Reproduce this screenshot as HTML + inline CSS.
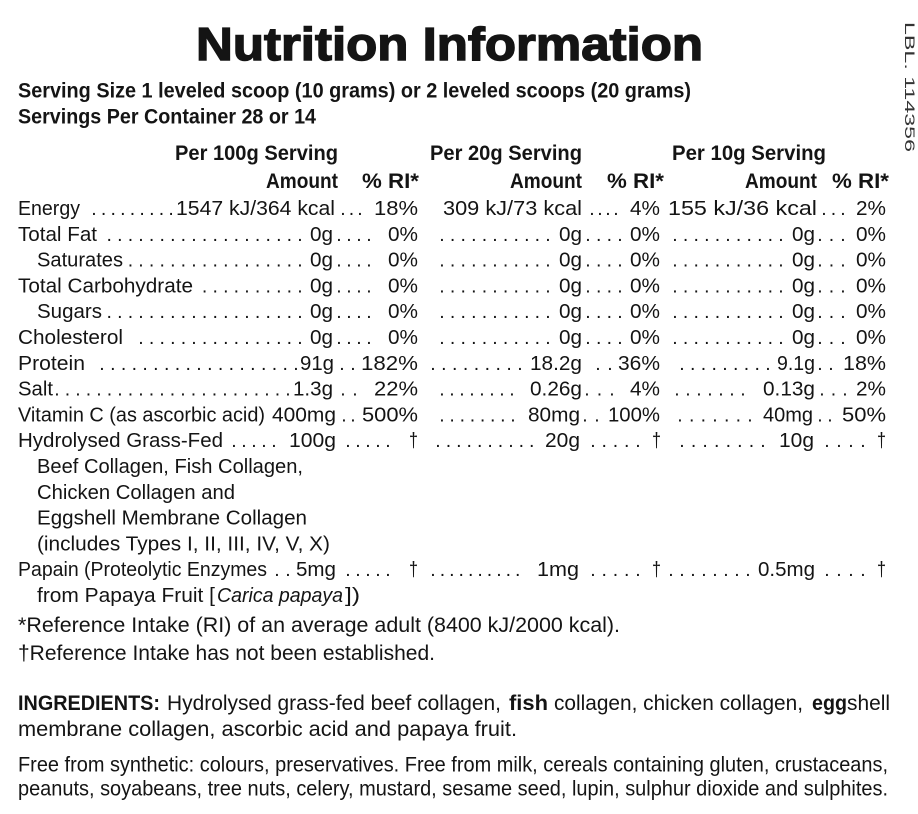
<!DOCTYPE html>
<html><head><meta charset="utf-8"><style>
html,body{margin:0;padding:0;background:#fff;}
svg{display:block;}
text{font-family:"Liberation Sans",sans-serif;font-size:20.5px;fill:#141414;}
.b{font-weight:bold;font-size:21.5px;}
.f{font-size:21.5px;}
.t{font-weight:bold;font-size:46px;stroke:#141414;stroke-width:1.4px;}
.i{font-style:italic;}
.l{font-size:14px;fill:#333;}
.d{font-size:19.5px;}
</style></head><body>
<svg width="918" height="814" viewBox="0 0 918 814" xmlns="http://www.w3.org/2000/svg">
<rect width="918" height="814" fill="#fff"/>
<text class="t" x="196" y="60" textLength="507" lengthAdjust="spacingAndGlyphs">Nutrition Information</text>
<text class="l" transform="translate(905,22) rotate(90)" textLength="130" lengthAdjust="spacingAndGlyphs">LBL. 114356</text>

<text class="b" x="18" y="97.5" textLength="673" lengthAdjust="spacingAndGlyphs">Serving Size 1 leveled scoop (10 grams) or 2 leveled scoops (20 grams)</text>
<text class="b" x="18" y="123.5" textLength="298" lengthAdjust="spacingAndGlyphs">Servings Per Container 28 or 14</text>

<text class="b" x="175" y="160" textLength="163" lengthAdjust="spacingAndGlyphs">Per 100g Serving</text>
<text class="b" x="430" y="160" textLength="152" lengthAdjust="spacingAndGlyphs">Per 20g Serving</text>
<text class="b" x="672" y="160" textLength="154" lengthAdjust="spacingAndGlyphs">Per 10g Serving</text>
<text class="b" x="266" y="188" textLength="72" lengthAdjust="spacingAndGlyphs">Amount</text>
<text class="b" x="362" y="188" textLength="57" lengthAdjust="spacingAndGlyphs">% RI*</text>
<text class="b" x="510" y="188" textLength="72" lengthAdjust="spacingAndGlyphs">Amount</text>
<text class="b" x="607" y="188" textLength="57" lengthAdjust="spacingAndGlyphs">% RI*</text>
<text class="b" x="745" y="188" textLength="72" lengthAdjust="spacingAndGlyphs">Amount</text>
<text class="b" x="832" y="188" textLength="57" lengthAdjust="spacingAndGlyphs">% RI*</text>

<!-- Energy -->
<text x="18" y="215" textLength="62" lengthAdjust="spacingAndGlyphs">Energy</text>
<text class="d" x="91.3" y="215" style="letter-spacing:4.21px">.........</text>
<text x="176" y="215" textLength="159" lengthAdjust="spacingAndGlyphs">1547 kJ/364 kcal</text>
<text class="d" x="340.3" y="215" style="letter-spacing:3.08px">...</text>
<text x="374" y="215" textLength="44" lengthAdjust="spacingAndGlyphs">18%</text>
<text x="443" y="215" textLength="139" lengthAdjust="spacingAndGlyphs">309 kJ/73 kcal</text>
<text class="d" x="589.3" y="215" style="letter-spacing:2.58px">....</text>
<text x="630" y="215" textLength="30" lengthAdjust="spacingAndGlyphs">4%</text>
<text x="668" y="215" textLength="149" lengthAdjust="spacingAndGlyphs">155 kJ/36 kcal</text>
<text class="d" x="821.3" y="215" style="letter-spacing:4.08px">...</text>
<text x="856" y="215" textLength="30" lengthAdjust="spacingAndGlyphs">2%</text>

<!-- Total Fat -->
<text x="18" y="240.8" textLength="79" lengthAdjust="spacingAndGlyphs">Total Fat</text>
<text class="d" x="106.5" y="240.8" style="letter-spacing:5.18px">...................</text>
<text x="310" y="240.8" textLength="23" lengthAdjust="spacingAndGlyphs">0g</text>
<text class="d" x="336.3" y="240.8" style="letter-spacing:4.58px">....</text>
<text x="388" y="240.8" textLength="30" lengthAdjust="spacingAndGlyphs">0%</text>
<text class="d" x="439.3" y="240.8" style="letter-spacing:5.18px">...........</text>
<text x="559" y="240.8" textLength="23" lengthAdjust="spacingAndGlyphs">0g</text>
<text class="d" x="585.3" y="240.8" style="letter-spacing:5.25px">....</text>
<text x="630" y="240.8" textLength="30" lengthAdjust="spacingAndGlyphs">0%</text>
<text class="d" x="672.3" y="240.8" style="letter-spacing:5.18px">...........</text>
<text x="792" y="240.8" textLength="23" lengthAdjust="spacingAndGlyphs">0g</text>
<text class="d" x="817.3" y="240.8" style="letter-spacing:6.08px">...</text>
<text x="856" y="240.8" textLength="30" lengthAdjust="spacingAndGlyphs">0%</text>

<!-- Saturates -->
<text x="37" y="266.6" textLength="86" lengthAdjust="spacingAndGlyphs">Saturates</text>
<text class="d" x="127.7" y="266.6" style="letter-spacing:5.18px">.................</text>
<text x="310" y="266.6" textLength="23" lengthAdjust="spacingAndGlyphs">0g</text>
<text class="d" x="336.3" y="266.6" style="letter-spacing:4.58px">....</text>
<text x="388" y="266.6" textLength="30" lengthAdjust="spacingAndGlyphs">0%</text>
<text class="d" x="439.3" y="266.6" style="letter-spacing:5.18px">...........</text>
<text x="559" y="266.6" textLength="23" lengthAdjust="spacingAndGlyphs">0g</text>
<text class="d" x="585.3" y="266.6" style="letter-spacing:5.25px">....</text>
<text x="630" y="266.6" textLength="30" lengthAdjust="spacingAndGlyphs">0%</text>
<text class="d" x="672.3" y="266.6" style="letter-spacing:5.18px">...........</text>
<text x="792" y="266.6" textLength="23" lengthAdjust="spacingAndGlyphs">0g</text>
<text class="d" x="817.3" y="266.6" style="letter-spacing:6.08px">...</text>
<text x="856" y="266.6" textLength="30" lengthAdjust="spacingAndGlyphs">0%</text>

<!-- Total Carbohydrate -->
<text x="18" y="292.4" textLength="175" lengthAdjust="spacingAndGlyphs">Total Carbohydrate</text>
<text class="d" x="201.9" y="292.4" style="letter-spacing:5.18px">..........</text>
<text x="310" y="292.4" textLength="23" lengthAdjust="spacingAndGlyphs">0g</text>
<text class="d" x="336.3" y="292.4" style="letter-spacing:4.58px">....</text>
<text x="388" y="292.4" textLength="30" lengthAdjust="spacingAndGlyphs">0%</text>
<text class="d" x="439.3" y="292.4" style="letter-spacing:5.18px">...........</text>
<text x="559" y="292.4" textLength="23" lengthAdjust="spacingAndGlyphs">0g</text>
<text class="d" x="585.3" y="292.4" style="letter-spacing:5.25px">....</text>
<text x="630" y="292.4" textLength="30" lengthAdjust="spacingAndGlyphs">0%</text>
<text class="d" x="672.3" y="292.4" style="letter-spacing:5.18px">...........</text>
<text x="792" y="292.4" textLength="23" lengthAdjust="spacingAndGlyphs">0g</text>
<text class="d" x="817.3" y="292.4" style="letter-spacing:6.08px">...</text>
<text x="856" y="292.4" textLength="30" lengthAdjust="spacingAndGlyphs">0%</text>

<!-- Sugars -->
<text x="37" y="318.2" textLength="65" lengthAdjust="spacingAndGlyphs">Sugars</text>
<text class="d" x="106.5" y="318.2" style="letter-spacing:5.18px">...................</text>
<text x="310" y="318.2" textLength="23" lengthAdjust="spacingAndGlyphs">0g</text>
<text class="d" x="336.3" y="318.2" style="letter-spacing:4.58px">....</text>
<text x="388" y="318.2" textLength="30" lengthAdjust="spacingAndGlyphs">0%</text>
<text class="d" x="439.3" y="318.2" style="letter-spacing:5.18px">...........</text>
<text x="559" y="318.2" textLength="23" lengthAdjust="spacingAndGlyphs">0g</text>
<text class="d" x="585.3" y="318.2" style="letter-spacing:5.25px">....</text>
<text x="630" y="318.2" textLength="30" lengthAdjust="spacingAndGlyphs">0%</text>
<text class="d" x="672.3" y="318.2" style="letter-spacing:5.18px">...........</text>
<text x="792" y="318.2" textLength="23" lengthAdjust="spacingAndGlyphs">0g</text>
<text class="d" x="817.3" y="318.2" style="letter-spacing:6.08px">...</text>
<text x="856" y="318.2" textLength="30" lengthAdjust="spacingAndGlyphs">0%</text>

<!-- Cholesterol -->
<text x="18" y="344" textLength="105" lengthAdjust="spacingAndGlyphs">Cholesterol</text>
<text class="d" x="138.3" y="344" style="letter-spacing:5.18px">................</text>
<text x="310" y="344" textLength="23" lengthAdjust="spacingAndGlyphs">0g</text>
<text class="d" x="336.3" y="344" style="letter-spacing:4.58px">....</text>
<text x="388" y="344" textLength="30" lengthAdjust="spacingAndGlyphs">0%</text>
<text class="d" x="439.3" y="344" style="letter-spacing:5.18px">...........</text>
<text x="559" y="344" textLength="23" lengthAdjust="spacingAndGlyphs">0g</text>
<text class="d" x="585.3" y="344" style="letter-spacing:5.25px">....</text>
<text x="630" y="344" textLength="30" lengthAdjust="spacingAndGlyphs">0%</text>
<text class="d" x="672.3" y="344" style="letter-spacing:5.18px">...........</text>
<text x="792" y="344" textLength="23" lengthAdjust="spacingAndGlyphs">0g</text>
<text class="d" x="817.3" y="344" style="letter-spacing:6.08px">...</text>
<text x="856" y="344" textLength="30" lengthAdjust="spacingAndGlyphs">0%</text>

<!-- Protein -->
<text x="18" y="369.8" textLength="67" lengthAdjust="spacingAndGlyphs">Protein</text>
<text class="d" x="99.3" y="369.8" style="letter-spacing:5.36px">...................</text>
<text x="300" y="369.8" textLength="34" lengthAdjust="spacingAndGlyphs">91g</text>
<text class="d" x="339.3" y="369.8" style="letter-spacing:5.58px">..</text>
<text x="361" y="369.8" textLength="57" lengthAdjust="spacingAndGlyphs">182%</text>
<text class="d" x="430.3" y="369.8" style="letter-spacing:5.45px">.........</text>
<text x="530" y="369.8" textLength="52" lengthAdjust="spacingAndGlyphs">18.2g</text>
<text class="d" x="595.3" y="369.8" style="letter-spacing:6.58px">..</text>
<text x="618" y="369.8" textLength="42" lengthAdjust="spacingAndGlyphs">36%</text>
<text class="d" x="679.3" y="369.8" style="letter-spacing:5.33px">.........</text>
<text x="777" y="369.8" textLength="38" lengthAdjust="spacingAndGlyphs">9.1g</text>
<text class="d" x="817.3" y="369.8" style="letter-spacing:5.58px">..</text>
<text x="843" y="369.8" textLength="43" lengthAdjust="spacingAndGlyphs">18%</text>

<!-- Salt -->
<text x="18" y="395.6" textLength="35" lengthAdjust="spacingAndGlyphs">Salt</text>
<text class="d" x="54.3" y="395.6" style="letter-spacing:5.08px">.......................</text>
<text x="293" y="395.6" textLength="40" lengthAdjust="spacingAndGlyphs">1.3g</text>
<text class="d" x="340.3" y="395.6" style="letter-spacing:6.58px">..</text>
<text x="374" y="395.6" textLength="44" lengthAdjust="spacingAndGlyphs">22%</text>
<text class="d" x="439.3" y="395.6" style="letter-spacing:4.58px">........</text>
<text x="530" y="395.6" textLength="52" lengthAdjust="spacingAndGlyphs">0.26g</text>
<text class="d" x="584.3" y="395.6" style="letter-spacing:7.08px">...</text>
<text x="630" y="395.6" textLength="30" lengthAdjust="spacingAndGlyphs">4%</text>
<text class="d" x="674.3" y="395.6" style="letter-spacing:5.58px">.......</text>
<text x="763" y="395.6" textLength="52" lengthAdjust="spacingAndGlyphs">0.13g</text>
<text class="d" x="819.3" y="395.6" style="letter-spacing:6.08px">...</text>
<text x="856" y="395.6" textLength="30" lengthAdjust="spacingAndGlyphs">2%</text>

<!-- Vitamin C -->
<text x="18" y="421.4" textLength="247" lengthAdjust="spacingAndGlyphs">Vitamin C (as ascorbic acid)</text>
<text x="272" y="421.4" textLength="64" lengthAdjust="spacingAndGlyphs">400mg</text>
<text class="d" x="341.3" y="421.4" style="letter-spacing:3.58px">..</text>
<text x="362" y="421.4" textLength="56" lengthAdjust="spacingAndGlyphs">500%</text>
<text class="d" x="439.3" y="421.4" style="letter-spacing:4.72px">........</text>
<text x="528" y="421.4" textLength="52" lengthAdjust="spacingAndGlyphs">80mg</text>
<text class="d" x="582.3" y="421.4" style="letter-spacing:6.58px">..</text>
<text x="608" y="421.4" textLength="52" lengthAdjust="spacingAndGlyphs">100%</text>
<text class="d" x="677.3" y="421.4" style="letter-spacing:6.25px">.......</text>
<text x="763" y="421.4" textLength="50" lengthAdjust="spacingAndGlyphs">40mg</text>
<text class="d" x="817.3" y="421.4" style="letter-spacing:4.58px">..</text>
<text x="842" y="421.4" textLength="44" lengthAdjust="spacingAndGlyphs">50%</text>

<!-- Hydrolysed -->
<text x="18" y="447.2" textLength="205" lengthAdjust="spacingAndGlyphs">Hydrolysed Grass-Fed</text>
<text class="d" x="231.3" y="447.2" style="letter-spacing:4.58px">.....</text>
<text x="289" y="447.2" textLength="47" lengthAdjust="spacingAndGlyphs">100g</text>
<text class="d" x="345.3" y="447.2" style="letter-spacing:4.58px">.....</text>
<text x="409" y="447.2" textLength="9" lengthAdjust="spacingAndGlyphs">†</text>
<text class="d" x="435.3" y="447.2" style="letter-spacing:5.0px">..........</text>
<text x="545" y="447.2" textLength="35" lengthAdjust="spacingAndGlyphs">20g</text>
<text class="d" x="590.3" y="447.2" style="letter-spacing:5.83px">.....</text>
<text x="652" y="447.2" textLength="9" lengthAdjust="spacingAndGlyphs">†</text>
<text class="d" x="679.3" y="447.2" style="letter-spacing:6.15px">........</text>
<text x="779" y="447.2" textLength="35" lengthAdjust="spacingAndGlyphs">10g</text>
<text class="d" x="824.3" y="447.2" style="letter-spacing:6.58px">....</text>
<text x="877" y="447.2" textLength="9" lengthAdjust="spacingAndGlyphs">†</text>

<text x="37" y="473" textLength="266" lengthAdjust="spacingAndGlyphs">Beef Collagen, Fish Collagen,</text>
<text x="37" y="498.8" textLength="198" lengthAdjust="spacingAndGlyphs">Chicken Collagen and</text>
<text x="37" y="524.6" textLength="270" lengthAdjust="spacingAndGlyphs">Eggshell Membrane Collagen</text>
<text x="37" y="550.4" textLength="293" lengthAdjust="spacingAndGlyphs">(includes Types I, II, III, IV, V, X)</text>

<!-- Papain -->
<text x="18" y="576.2" textLength="249" lengthAdjust="spacingAndGlyphs">Papain (Proteolytic Enzymes</text>
<text class="d" x="274.3" y="576.2" style="letter-spacing:5.58px">..</text>
<text x="296" y="576.2" textLength="40" lengthAdjust="spacingAndGlyphs">5mg</text>
<text class="d" x="345.3" y="576.2" style="letter-spacing:4.58px">.....</text>
<text x="409" y="576.2" textLength="9" lengthAdjust="spacingAndGlyphs">†</text>
<text class="d" x="430.3" y="576.2" style="letter-spacing:4.0px">..........</text>
<text x="537" y="576.2" textLength="42" lengthAdjust="spacingAndGlyphs">1mg</text>
<text class="d" x="590.3" y="576.2" style="letter-spacing:5.83px">.....</text>
<text x="652" y="576.2" textLength="9" lengthAdjust="spacingAndGlyphs">†</text>
<text class="d" x="668.3" y="576.2" style="letter-spacing:5.58px">........</text>
<text x="758" y="576.2" textLength="57" lengthAdjust="spacingAndGlyphs">0.5mg</text>
<text class="d" x="824.3" y="576.2" style="letter-spacing:6.58px">....</text>
<text x="877" y="576.2" textLength="9" lengthAdjust="spacingAndGlyphs">†</text>

<text x="37" y="602" textLength="178" lengthAdjust="spacingAndGlyphs">from Papaya Fruit [</text>
<text class="i" x="217" y="602" textLength="126" lengthAdjust="spacingAndGlyphs">Carica papaya</text>
<text x="345" y="602" textLength="15" lengthAdjust="spacingAndGlyphs">])</text>

<!-- Footnotes -->
<text class="f" x="18" y="632" textLength="602" lengthAdjust="spacingAndGlyphs">*Reference Intake (RI) of an average adult (8400 kJ/2000 kcal).</text>
<text class="f" x="18" y="660" textLength="417" lengthAdjust="spacingAndGlyphs">†Reference Intake has not been established.</text>

<!-- Ingredients -->
<text class="b" x="18" y="710" textLength="142" lengthAdjust="spacingAndGlyphs">INGREDIENTS:</text>
<text class="f" x="167" y="710" textLength="334" lengthAdjust="spacingAndGlyphs">Hydrolysed grass-fed beef collagen,</text>
<text class="b" x="509" y="710" textLength="39" lengthAdjust="spacingAndGlyphs">fish</text>
<text class="f" x="554" y="710" textLength="249" lengthAdjust="spacingAndGlyphs">collagen, chicken collagen,</text>
<text class="b" x="812" y="710" textLength="35" lengthAdjust="spacingAndGlyphs">egg</text>
<text class="f" x="847" y="710" textLength="43" lengthAdjust="spacingAndGlyphs">shell</text>
<text class="f" x="18" y="736" textLength="499" lengthAdjust="spacingAndGlyphs">membrane collagen, ascorbic acid and papaya fruit.</text>

<text class="f" x="18" y="771.5" textLength="870" lengthAdjust="spacingAndGlyphs">Free from synthetic: colours, preservatives. Free from milk, cereals containing gluten, crustaceans,</text>
<text class="f" x="18" y="795.5" textLength="870" lengthAdjust="spacingAndGlyphs">peanuts, soyabeans, tree nuts, celery, mustard, sesame seed, lupin, sulphur dioxide and sulphites.</text>
</svg>
</body></html>
